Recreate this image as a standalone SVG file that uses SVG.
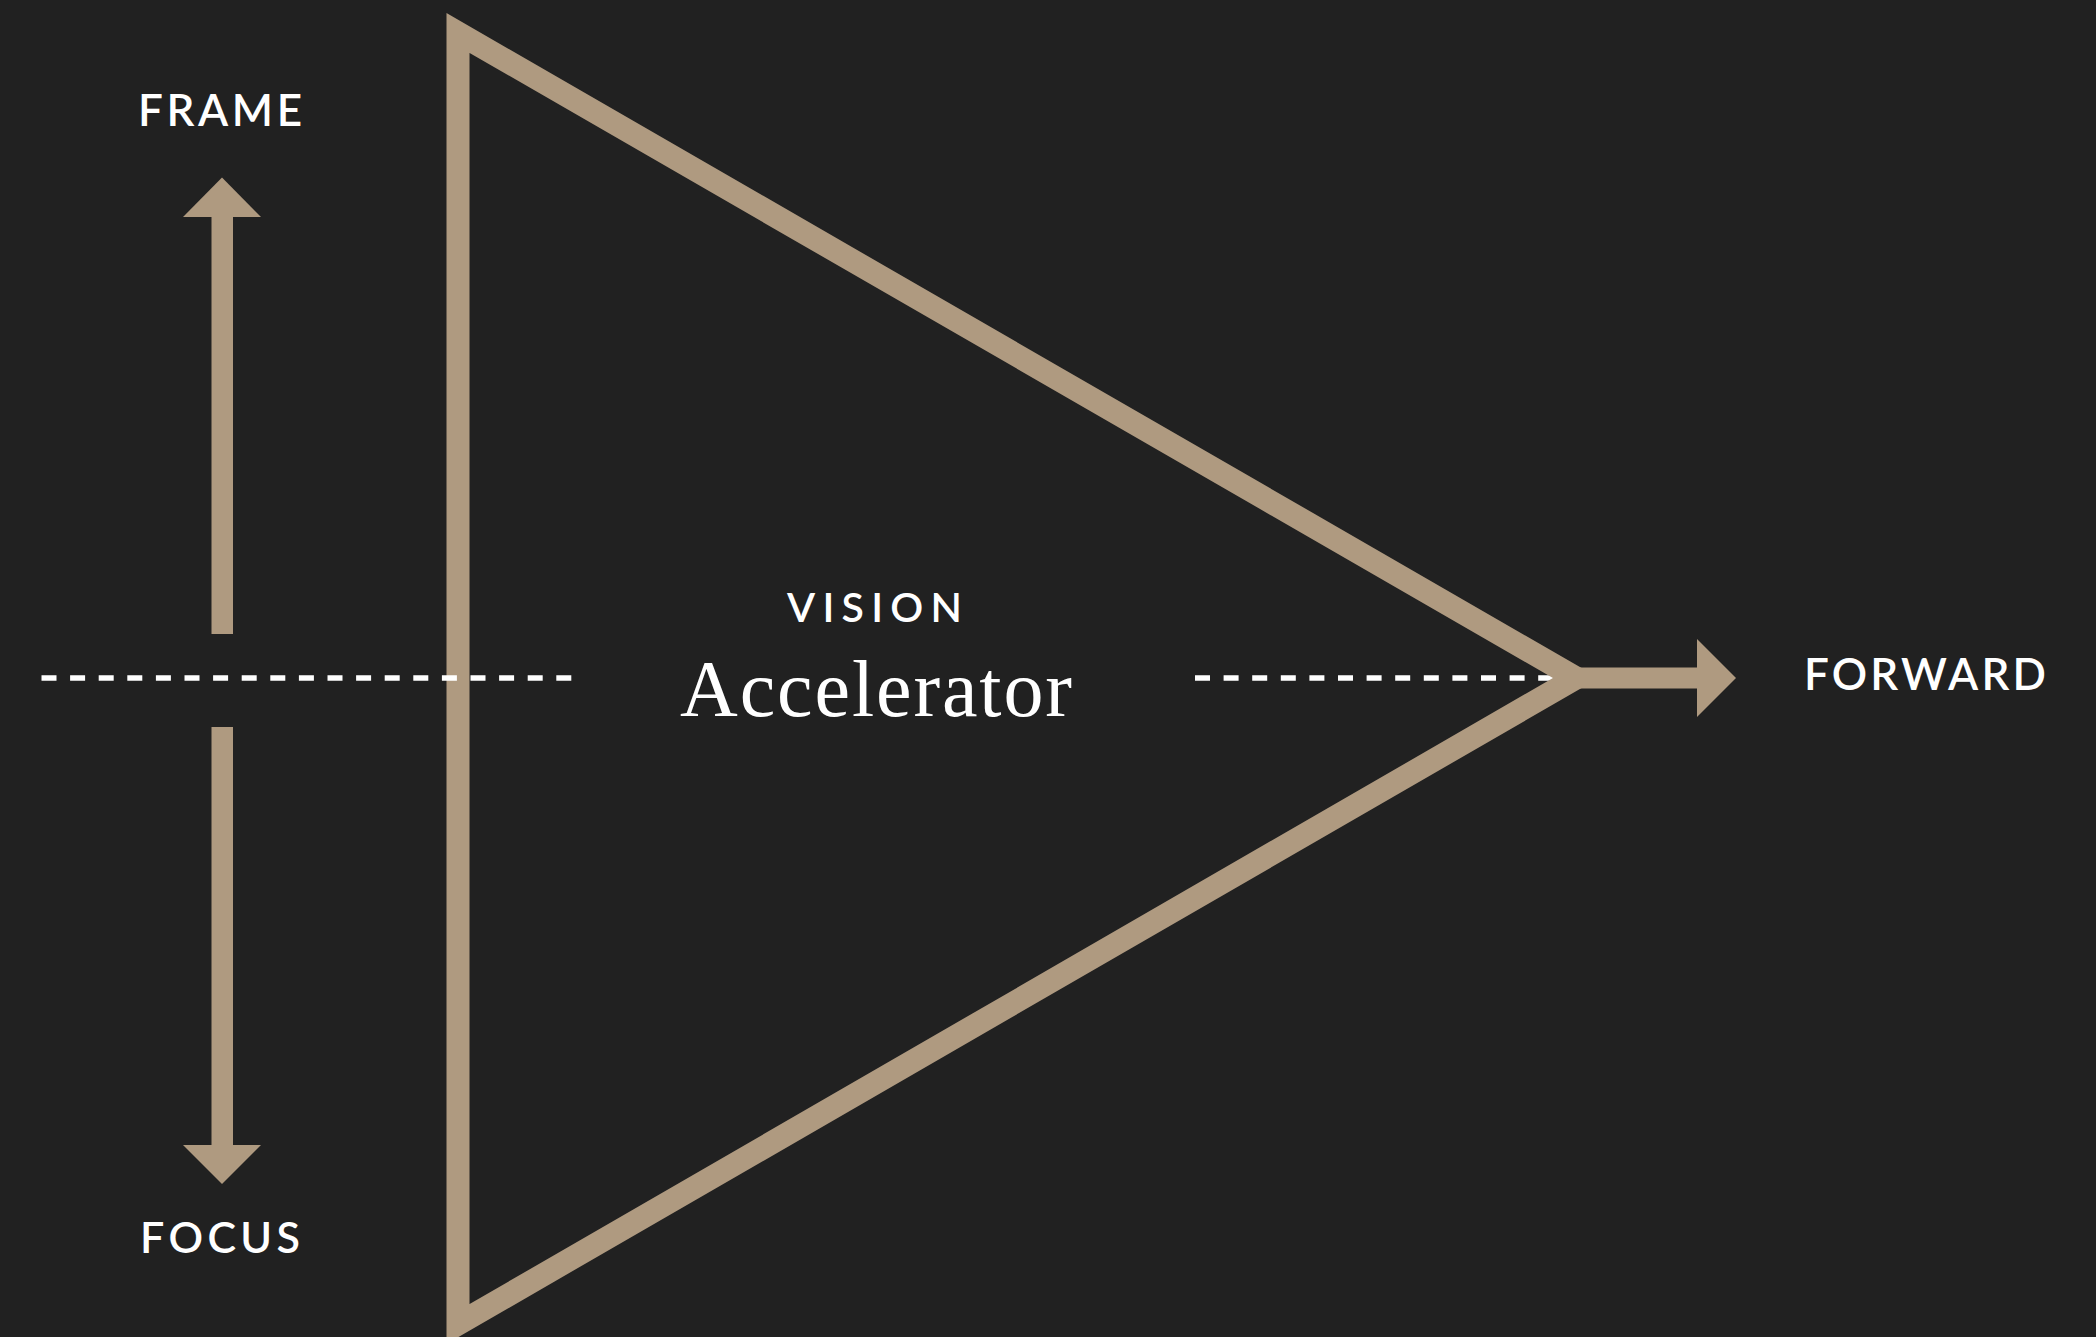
<svg xmlns="http://www.w3.org/2000/svg" width="2096" height="1337" viewBox="0 0 2096 1337">
<style>
.tan{fill:#af9a80}
.dash{stroke:#ffffff;stroke-width:5.5;stroke-dasharray:15 13.6;fill:none}
.lbl{font-family:Lato,"Open Sans","Liberation Sans",sans-serif;fill:#ffffff;font-weight:600}
.serif{font-family:"Liberation Serif","DejaVu Serif",serif;fill:#ffffff}
</style>
<rect x="0" y="0" width="2096" height="1337" fill="#212121"/>
<g id="connectors">
<path id="dash-right" class="dash" d="M1195 678 H1556"/>
</g>
<g id="triangle">
<polygon points="458,33 1576,678 458,1324" fill="none" stroke="#af9a80" stroke-width="23" stroke-linejoin="miter"/>
</g>
<g id="connectors-2">
<path id="dash-left" class="dash" d="M41.5 678 H572"/>
<g id="arrow-up">
<rect class="tan" x="211.5" y="216" width="21.5" height="418"/>
<polygon class="tan" points="222,177.5 261,217 183,217"/>
</g>
<g id="arrow-down">
<rect class="tan" x="211.5" y="727" width="21.5" height="419"/>
<polygon class="tan" points="183,1145 261,1145 222,1184"/>
</g>
<g id="arrow-forward">
<rect class="tan" x="1570" y="667.5" width="128" height="21"/>
<polygon class="tan" points="1697,639 1736,678 1697,717"/>
</g>
</g>
<g id="frame">
<text class="lbl" x="138" y="126" font-size="44" textLength="164" lengthAdjust="spacing">FRAME</text>
</g>
<g id="focus">
<text class="lbl" x="140" y="1253" font-size="43" textLength="160" lengthAdjust="spacing">FOCUS</text>
</g>
<g id="vision">
<text class="lbl" x="787" y="622" font-size="41" textLength="175" lengthAdjust="spacing">VISION</text>
<text class="serif" x="680" y="716" font-size="80" textLength="392" lengthAdjust="spacing">Accelerator</text>
</g>
<g id="forward">
<text class="lbl" x="1804" y="690" font-size="44" textLength="242" lengthAdjust="spacing">FORWARD</text>
</g>
</svg>
